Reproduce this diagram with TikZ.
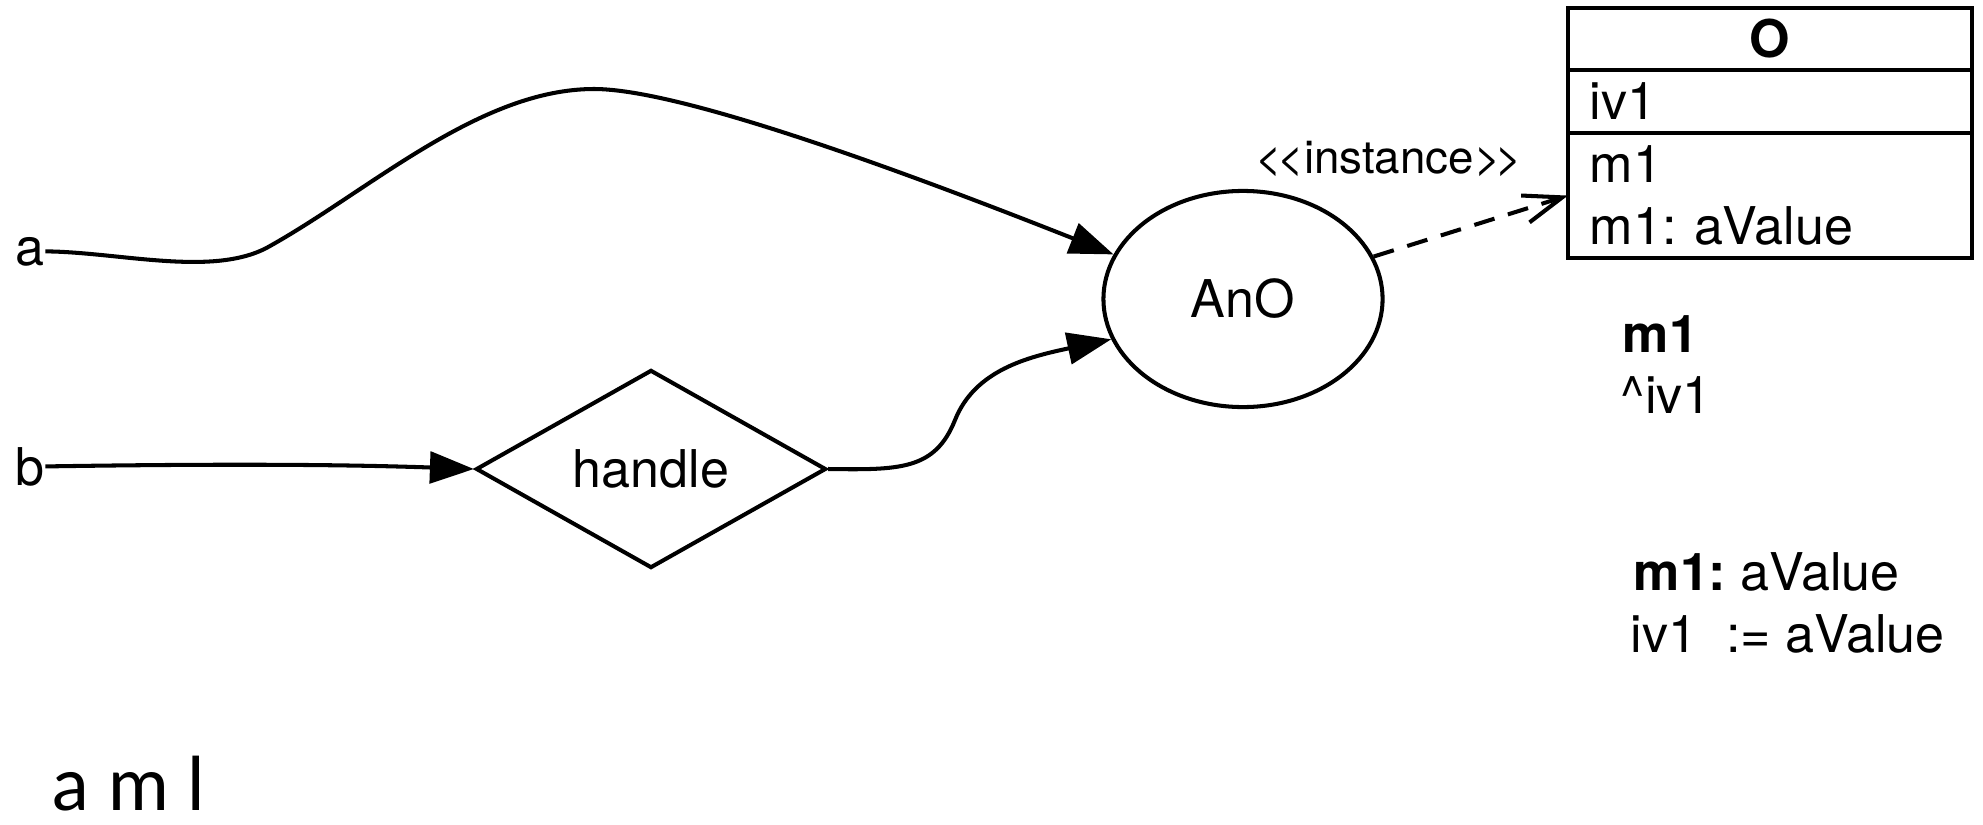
\documentclass[tikz,border=0pt]{standalone}
\usepackage{fontspec}
\setmainfont{TeX Gyre Heros}
\newfontfamily\gillfont{Lato}
\usetikzlibrary{shapes.geometric,arrows.meta,positioning}
\frenchspacing

\begin{document}
\begin{tikzpicture}[x=0.01cm,y=-0.01cm,
    every node/.style={font=\fontsize{14.8}{17.6}\selectfont},
    lbl/.style={inner sep=0pt, anchor=base west},
    action/.style={draw, line width=1.15pt, diamond, aspect=1.77, minimum width=3.5cm, minimum height=1.98cm},
    obj/.style={draw, line width=1.15pt, ellipse, minimum width=2.79cm, minimum height=2.16cm},
    classhead/.style={draw, line width=1.15pt, outer sep=0pt, inner ysep=0pt, minimum width=4.04cm, minimum height=0.62cm, font=\fontsize{14.8}{17.6}\selectfont\bfseries},
    classpart/.style={draw, line width=1.15pt, outer sep=0pt, inner ysep=0pt, inner xsep=0.22cm, text width=3.6cm, align=left},
    flow/.style={line width=1.15pt, -{Triangle[length=12.5pt,width=9pt]}},
    inst/.style={line width=1.15pt, dash pattern=on 6pt off 4pt, -{Straight Barb[length=11pt,width=8pt]}}]

      % Fix the page size
      \useasboundingbox (0,0) rectangle (1983,824);

      % Inputs
      \node[lbl] (a) at (15,265) {a};
      \node[lbl] (b) at (15,485) {b};

      % Action and object
      \node[action] (handle) at (651,469) {handle};
      \node[obj] (AnO) at (1243,299) {AnO};

      % Class box
      \node[classhead] (O) at (1770,39) {O};
      \node[classpart, minimum height=0.63cm, below=0pt of O] (Oattr) {iv1};
      \node[classpart, minimum height=1.25cm, below=0pt of Oattr] (Ometh) {m1\\m1: aValue};

      % Connections
      \draw[flow] (a.east) .. controls (120,252) and (215,278) .. (270,246)
                  .. controls (370,190) and (480,89) .. (594,89)
                  .. controls (680,89) and (900,170) .. (AnO.161);
      \draw[flow] (b.east) .. controls (200,464) and (330,464) .. (handle.west);
      \draw[flow] (handle.east) .. controls (900,470) and (935,470) .. (955,420)
                  .. controls (975,370) and (1028,357) .. (AnO.197);
      \draw[inst] (AnO.18) -- (Ometh.west);

      % Labels
      \node[font=\fontsize{13}{15}\selectfont, anchor=base] (instlbl) at (1389,173) {<\kern-1.5pt<instance>\kern-1.5pt>};
      \node[lbl] (m1) at (1622,352) {\bfseries m1};
      \node[lbl] (ret) at (1620,413) {\textasciicircum iv1};
      \node[lbl] (m1val) at (1633,590) {{\bfseries m1:} aValue};
      \node[lbl] (assign) at (1630,652) {iv1\ \ := aValue};
      \node[lbl, font=\gillfont\fontsize{21}{25}\selectfont] (aml) at (52,810) {a m l};

    \end{tikzpicture}
\end{document}
